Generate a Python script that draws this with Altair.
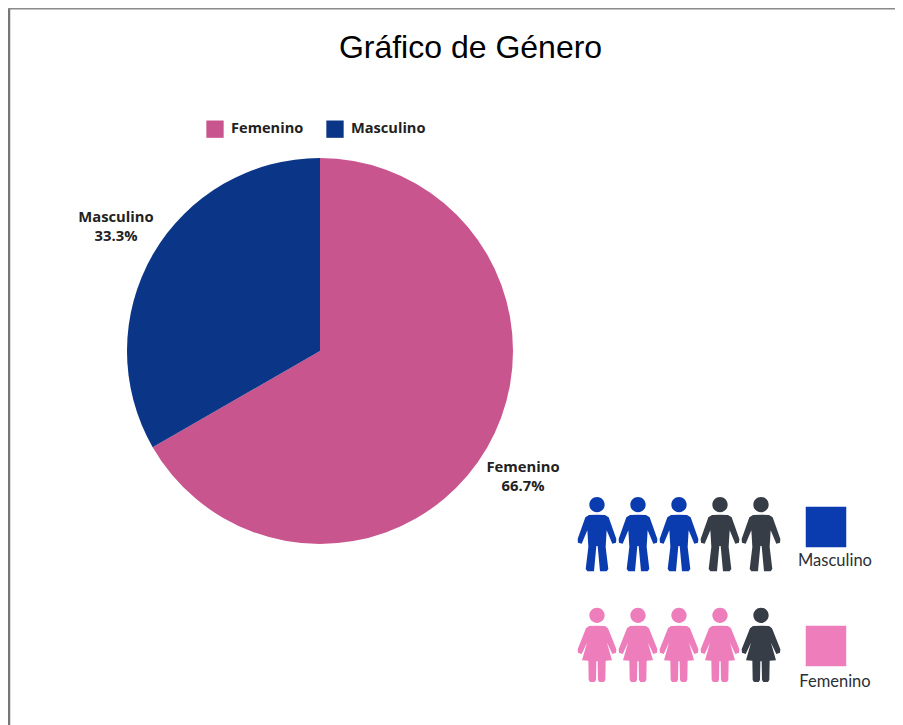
import altair as alt
import pandas as pd

W, H, TOP = 887, 637, 80

# ---- chart values ----
categories = ["Femenino", "Masculino"]
shares = [66.7, 33.3]
slice_order = [0, 1]
pct_labels = ["66.7%", "33.3%"]
male_filled = 3
female_filled = 4
icon_total = 5

PINK, NAVY = "#C9558F", "#0B3586"
BLUE, GRAY, LIGHT = "#0A3CB0", "#373D47", "#EE7DBB"


def path_from(half, head_cy, head_r, cy, unit=111.0):
    """Mirror a half outline (x offset, y in crop px) into a unit-square SVG path."""
    ux = lambda v: round(v / unit, 3)
    uy = lambda v: round((v - cy) / unit, 3)
    pts = [(x, y) for x, y in half] + [(-x, y) for x, y in reversed(half)]
    body = "M" + " L".join(f"{ux(x)},{uy(y)}" for x, y in pts) + " Z"
    r = ux(head_r)
    hy = uy(head_cy)
    head = f"M{-r},{hy} A{r},{r} 0 1 1 {r},{hy} A{r},{r} 0 1 1 {-r},{hy} Z"
    return body + " " + head


MAN = path_from(
    [(0, 103), (-24, 104), (-35, 111), (-58, 176), (-57, 187), (-46, 190), (-29, 150),
     (-26, 200), (-34, 266), (-29, 273), (-9, 273), (-2, 197)],
    73, 23, 161,
)
WOMAN = path_from(
    [(0, 437), (-24, 438), (-33, 445), (-58, 508), (-57, 518), (-46, 522), (-30, 488),
     (-45, 541), (-26, 542), (-25, 600), (-21, 606), (-7, 606), (-3, 600), (-2, 544)],
    406, 23, 495,
)

pie_df = pd.DataFrame({"Genero": categories, "Valor": shares, "Orden": slice_order,
                       "Pct": pct_labels})

pie = (
    alt.Chart(pie_df)
    .mark_arc(outerRadius=193, stroke=None)
    .encode(
        theta=alt.Theta("Valor:Q", stack=True),
        order=alt.Order("Orden:O"),
        color=alt.Color(
            "Genero:N",
            scale=alt.Scale(domain=categories, range=[PINK, NAVY]),
            legend=alt.Legend(
                title=None, orient="none", direction="horizontal",
                legendX=198, legendY=32, symbolType="square", symbolSize=300,
                symbolStrokeWidth=0, columnPadding=22, labelFont="Open Sans",
                labelFontWeight="bold", labelFontSize=14.6, labelColor="#222222",
                labelOffset=7, symbolOpacity=1,
            ),
        ),
        x=alt.value(312),
        y=alt.value(263),
    )
)


def pie_label(name, pct, x, y):
    df = pd.DataFrame({"t": [name, pct]})
    return alt.Chart(df.iloc[[0]]).mark_text(
        font="Open Sans", fontWeight="bold", fontSize=14.8, color="#222222", align="center",
    ).encode(text="t:N", x=alt.value(x), y=alt.value(y)) + alt.Chart(df.iloc[[1]]).mark_text(
        font="Open Sans", fontWeight="bold", fontSize=14.8, color="#222222", align="center",
    ).encode(text="t:N", x=alt.value(x), y=alt.value(y + 19))


def icon_row(filled, total, shape, on, y):
    df = pd.DataFrame({"i": list(range(total)),
                       "estado": ["si" if i < filled else "no" for i in range(total)]})
    return alt.Chart(df).mark_point(shape=shape, filled=True, opacity=1, strokeWidth=0, size=5476).encode(
        x=alt.X("i:Q", scale=alt.Scale(domain=[0, total - 1], range=[589, 753]), axis=None),
        y=alt.value(y),
        fill=alt.condition(alt.datum.estado == "si", alt.value(on), alt.value(GRAY)),
    )


def swatch(name, colour, y_box, y_text):
    df = pd.DataFrame({"t": [name]})
    box = alt.Chart(df).mark_square(size=1640, color=colour, opacity=1).encode(
        x=alt.value(818), y=alt.value(y_box))
    txt = alt.Chart(df).mark_text(font="Lato", fontSize=16.5, color="#2b2f36").encode(
        text="t:N", x=alt.value(827), y=alt.value(y_text))
    return box + txt


frame_df = pd.DataFrame({"k": [0]})
frame_left = alt.Chart(frame_df).mark_rule(color="#777777", strokeWidth=2.5).encode(
    x=alt.value(1), y=alt.value(-TOP), y2=alt.value(H))
frame_top = alt.Chart(frame_df).mark_rule(color="#8a8a8a", strokeWidth=2).encode(
    y=alt.value(-TOP + 0.5), x=alt.value(0), x2=alt.value(W))

chart = alt.layer(
    frame_left, frame_top, pie,
    pie_label("Masculino", pct_labels[1], 108, 130),
    pie_label("Femenino", pct_labels[0], 515, 380),
    icon_row(male_filled, icon_total, MAN, BLUE, 446),
    icon_row(female_filled, icon_total, WOMAN, LIGHT, 557),
    swatch("Masculino", BLUE, 439, 473),
    swatch("Femenino", LIGHT, 558, 594),
).resolve_scale(x="independent").properties(
    width=W, height=H,
    padding={"left": 0, "top": TOP, "right": 0, "bottom": 0},
    autosize=alt.AutoSizeParams(type="none"),
    title=alt.TitleParams("Gráfico de Género", font="Liberation Sans", fontSize=32,
                          fontWeight="normal", color="#000000", anchor="middle", dx=19, offset=-58),
).configure_view(stroke=None)

chart.save("out.html", embed_options={"renderer": "svg", "actions": False})
